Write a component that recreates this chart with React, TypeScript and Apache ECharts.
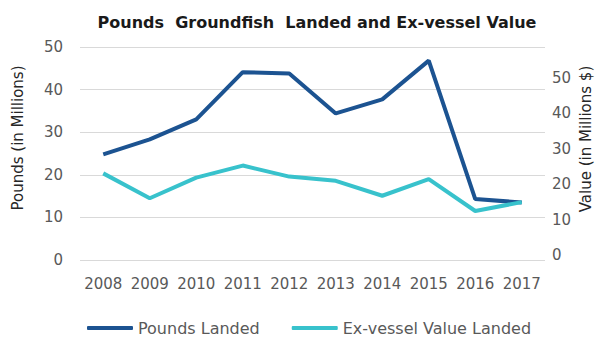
import React, { useEffect, useRef } from "react";
import * as echarts from "echarts";

const years = ["2008", "2009", "2010", "2011", "2012", "2013", "2014", "2015", "2016", "2017"];
const poundsLanded = [24.8, 28.3, 33.0, 44.1, 43.8, 34.4, 37.7, 46.8, 14.3, 13.5];
const exVesselValue = [24.4, 17.4, 23.2, 26.6, 23.5, 22.3, 18.1, 22.8, 13.8, 16.3];

const FONT = "DejaVu Sans";
const LABEL = "#595959";

export default function App() {
  const ref = useRef<HTMLDivElement>(null);
  useEffect(() => {
    document.body.style.margin = "0";
    if (!ref.current) return;
    const chart = echarts.init(ref.current, null, { renderer: "svg" });
    chart.setOption({
      animation: false,
      backgroundColor: "#ffffff",
      textStyle: { fontFamily: FONT },
      title: {
        text: "Pounds  Groundfish  Landed and Ex-vessel Value",
        left: 312,
        textAlign: "center",
        top: 9,
        textStyle: { fontFamily: FONT, fontSize: 16, fontWeight: "bold", color: "#1a1a1a" },
      },
      grid: { left: 80, right: 50, top: 47, bottom: 83, containLabel: false },
      legend: {
        bottom: 2,
        left: 82,
        icon: "roundRect",
        itemWidth: 46,
        itemHeight: 4,
        itemGap: 32,
        textStyle: { fontFamily: FONT, fontSize: 16, color: LABEL },
        data: ["Pounds Landed", "Ex-vessel Value Landed"],
      },
      xAxis: {
        type: "category",
        data: years,
        boundaryGap: true,
        axisLine: { show: false },
        axisTick: { show: false },
        axisLabel: { color: LABEL, fontSize: 15, fontFamily: FONT, margin: 16, interval: 0, hideOverlap: false },
      },
      yAxis: [
        {
          type: "value",
          min: 0,
          max: 50,
          interval: 10,
          axisLine: { show: false },
          axisTick: { show: false },
          axisLabel: { color: LABEL, fontSize: 15, fontFamily: FONT, margin: 17 },
          splitLine: { lineStyle: { color: "#d9d9d9", width: 1 } },
        },
        {
          type: "value",
          min: 0,
          max: 60,
          interval: 10,
          position: "right",
          axisLine: { show: false },
          axisTick: { show: false },
          splitLine: { show: false },
          axisLabel: {
            color: LABEL,
            fontSize: 15,
            fontFamily: FONT,
            margin: 7,
            formatter: (v: number) => (v === 60 ? "" : "{a|" + v + "}"),
            rich: { a: { color: LABEL, fontSize: 15, fontFamily: FONT, padding: [0, 0, 10, 0] } },
          },
        },
      ],
      graphic: [
        {
          type: "text",
          x: 18,
          y: 138,
          rotation: Math.PI / 2,
          style: {
            text: "Pounds (in Millions)",
            fontFamily: FONT,
            fontSize: 15,
            fill: "#262626",
            textAlign: "center",
            textVerticalAlign: "middle",
          },
        },
        {
          type: "text",
          x: 586,
          y: 139,
          rotation: Math.PI / 2,
          style: {
            text: "Value (in Millions $)",
            fontFamily: FONT,
            fontSize: 15,
            fill: "#262626",
            textAlign: "center",
            textVerticalAlign: "middle",
          },
        },
      ],
      series: [
        {
          name: "Pounds Landed",
          type: "line",
          yAxisIndex: 0,
          data: poundsLanded,
          showSymbol: false,
          symbol: "none",
          lineStyle: { color: "#1c5391", width: 4 },
          itemStyle: { color: "#1c5391" },
        },
        {
          name: "Ex-vessel Value Landed",
          type: "line",
          yAxisIndex: 1,
          data: exVesselValue,
          showSymbol: false,
          symbol: "none",
          lineStyle: { color: "#38c2cc", width: 4 },
          itemStyle: { color: "#38c2cc" },
        },
      ],
    });
    return () => chart.dispose();
  }, []);
  return <div ref={ref} style={{ width: 595, height: 343 }} />;
}
